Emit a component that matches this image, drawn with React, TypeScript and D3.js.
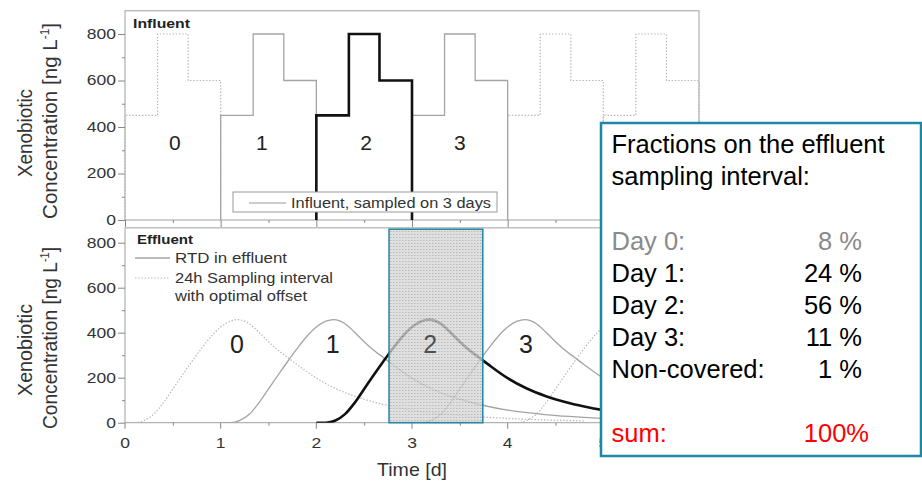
import React, { useEffect, useRef } from 'react'
import * as d3 from 'd3'

const concTicks = [0, 200, 400, 600, 800]
const concMinor = [100, 300, 500, 700]
const dayTicks = [0, 1, 2, 3, 4, 5, 6]
const halfDayTicks = [0.5, 1.5, 2.5, 3.5, 4.5, 5.5]

// influent: daily pattern, fraction of the day where a level starts and the level [ng/L]
const influentPhase = [0, 0.34, 0.66]
const influentLevel = [450, 800, 600]
const influentDays = [0, 1, 2, 3, 4, 5]
const sampledDays = [1, 2, 3]
const highlightDay = 2

// residence time distribution in the effluent: days after start of influent day, ng/L
const rtdTime = [0, 0.1, 0.2, 0.3, 0.4, 0.5, 0.6, 0.7, 0.8, 0.9, 1.0, 1.1, 1.18, 1.3, 1.4, 1.5, 1.6, 1.7, 1.8, 2.0, 2.2, 2.4, 2.6, 2.8, 3.0, 3.4, 4.0, 4.8]
const rtdConc = [0, 0, 10, 38, 88, 150, 212, 272, 330, 383, 425, 451, 458, 440, 402, 360, 322, 290, 258, 198, 152, 118, 92, 72, 56, 36, 19, 8]
const effluentDays = [0, 1, 2, 3, 4]

const dayLabels = ['0', '1', '2', '3']
const influentLabelAt = [0.52, 1.43, 2.52, 3.5]
const effluentLabelAt = [1.17, 2.17, 3.19, 4.19]

const samplingStart = 2.76
const samplingEnd = 3.74

const fractionLabels = ['Day 0:', 'Day 1:', 'Day 2:', 'Day 3:', 'Non-covered:']
const fractionValues = [8, 24, 56, 11, 1]
const fractionSum = 100

const FONT = 'Liberation Sans, Arial, Helvetica, sans-serif'
const TEAL = '#1e87a6'

export default function App() {
  const ref = useRef<SVGSVGElement>(null)

  useEffect(() => {
    const svg = d3.select(ref.current)
    svg.selectAll('*').remove()
    svg.attr('font-family', FONT)

    const x = d3.scaleLinear().domain([0, 6]).range([125, 699])
    const yTop = d3.scaleLinear().domain([0, 800]).range([220, 34])
    const yBot = d3.scaleLinear().domain([0, 800]).range([422.7, 242.7])

    const defs = svg.append('defs')
    const pat = defs.append('pattern').attr('id', 'dots')
      .attr('width', 3).attr('height', 3).attr('patternUnits', 'userSpaceOnUse')
    pat.append('rect').attr('width', 3).attr('height', 3).attr('fill', '#d6d6d6')
    pat.append('rect').attr('width', 1.5).attr('height', 1).attr('fill', '#a8a8a8')
    defs.append('clipPath').attr('id', 'clipBot').append('rect')
      .attr('x', x(0)).attr('y', yBot(866))
      .attr('width', x(6) - x(0)).attr('height', yBot(0) - yBot(866))

    // frames
    svg.append('rect').attr('x', x(0)).attr('y', yTop(900))
      .attr('width', x(6) - x(0)).attr('height', yTop(0) - yTop(900))
      .attr('fill', 'none').attr('stroke', '#a0a0a0')
    svg.append('rect').attr('x', x(0)).attr('y', yBot(866))
      .attr('width', x(6) - x(0)).attr('height', yBot(0) - yBot(866))
      .attr('fill', 'none').attr('stroke', '#a0a0a0')

    const styleAxis = (g) => {
      g.select('.domain').remove()
      g.selectAll('line').attr('stroke', '#888')
      g.selectAll('text').attr('font-size', 14).attr('fill', '#333').attr('font-family', FONT)
    }

    const yAxes = (y) => {
      const major = svg.append('g').attr('transform', `translate(${x(0)},0)`)
        .call(d3.axisLeft(y).tickValues(concTicks).tickSize(7).tickPadding(2))
      styleAxis(major)
      major.selectAll('text').attr('x', -9 / 1.25).attr('transform', 'scale(1.25,1)')
      const minor = svg.append('g').attr('transform', `translate(${x(0)},0)`)
        .call(d3.axisLeft(y).tickValues(concMinor).tickSize(3).tickFormat(() => ''))
      styleAxis(minor)
    }
    yAxes(yTop)
    yAxes(yBot)

    // top panel x ticks (no labels)
    const tx = svg.append('g').attr('transform', `translate(0,${yTop(0)})`)
      .call(d3.axisBottom(x).tickValues(dayTicks).tickSize(7).tickFormat(() => ''))
    styleAxis(tx)
    const txm = svg.append('g').attr('transform', `translate(0,${yTop(0)})`)
      .call(d3.axisBottom(x).tickValues(halfDayTicks).tickSize(3).tickFormat(() => ''))
    styleAxis(txm)

    // bottom panel x axis
    const bx = svg.append('g').attr('transform', `translate(0,${yBot(0)})`)
      .call(d3.axisBottom(x).tickValues(dayTicks).tickSize(6).tickPadding(9).tickFormat(d3.format('d')))
    styleAxis(bx)
    bx.selectAll('text').attr('transform', 'scale(1.25,1)')
      .attr('x', function (this: any) { return 0 })
    bx.selectAll('.tick').each(function (this: any, d: any) {
      d3.select(this).attr('transform', `translate(${x(d)},0)`)
    })
    const bxm = svg.append('g').attr('transform', `translate(0,${yBot(0)})`)
      .call(d3.axisBottom(x).tickValues(halfDayTicks).tickSize(3).tickFormat(() => ''))
    styleAxis(bxm)

    // influent steps
    const dayPoints = (d: number) => {
      const pts: [number, number][] = [[d, 0]]
      influentPhase.forEach((p, i) => {
        const end = i + 1 < influentPhase.length ? influentPhase[i + 1] : 1
        pts.push([d + p, influentLevel[i]])
        pts.push([d + end, influentLevel[i]])
      })
      pts.push([d + 1, 0])
      return pts
    }
    const stepLine = d3.line<[number, number]>().x(p => x(p[0])).y(p => yTop(p[1]))
    const kind = (d: number) => d === highlightDay ? 'bold' : sampledDays.includes(d) ? 'grey' : 'dotted'
    const lineStyle = (sel, k: string) => {
      if (k === 'bold') sel.attr('stroke', '#111').attr('stroke-width', 2.6)
      else if (k === 'grey') sel.attr('stroke', '#a4a4a4').attr('stroke-width', 1.3)
      else sel.attr('stroke', '#b4b4b4').attr('stroke-width', 1.2).attr('stroke-dasharray', '1.4,1.8')
    }
    const order = ['dotted', 'grey', 'bold']
    order.forEach(k => {
      influentDays.filter(d => kind(d) === k).forEach(d => {
        const p = svg.append('path').attr('d', stepLine(dayPoints(d))).attr('fill', 'none')
        lineStyle(p, k)
      })
    })

    // effluent RTD curves
    const rtdLine = d3.line<number>()
      .x((t) => x(t))
      .y((_, i) => yBot(rtdConc[i]))
      .curve(d3.curveMonotoneX)
    const curves = svg.append('g').attr('clip-path', 'url(#clipBot)')
    order.forEach(k => {
      effluentDays.filter(d => kind(d) === k).forEach(d => {
        const p = curves.append('path').attr('d', rtdLine(rtdTime.map(t => d + t))).attr('fill', 'none')
        lineStyle(p, k)
      })
    })

    // sampling interval
    svg.append('rect')
      .attr('x', x(samplingStart)).attr('y', yBot(860))
      .attr('width', x(samplingEnd) - x(samplingStart)).attr('height', yBot(0) - yBot(860))
      .attr('fill', 'url(#dots)').attr('fill-opacity', 0.78)
      .attr('stroke', TEAL).attr('stroke-width', 1.5)

    // day numbers
    dayLabels.forEach((lab, i) => {
      svg.append('text').attr('x', x(influentLabelAt[i])).attr('y', 150)
        .attr('text-anchor', 'middle').attr('font-size', 21).attr('fill', '#222').text(lab)
      svg.append('text').attr('x', x(effluentLabelAt[i])).attr('y', 353)
        .attr('text-anchor', 'middle').attr('font-size', 25).attr('fill', '#222')
        .attr('fill-opacity', i === 1 + 1 ? 0.75 : 1).text(lab)
    })

    // panel titles
    svg.append('text').attr('x', 133).attr('y', 28).attr('font-size', 13).attr('font-weight', 'bold')
      .attr('fill', '#222').attr('textLength', 57).attr('lengthAdjust', 'spacingAndGlyphs').text('Influent')
    svg.append('text').attr('x', 137).attr('y', 244).attr('font-size', 13).attr('font-weight', 'bold')
      .attr('fill', '#222').attr('textLength', 56).attr('lengthAdjust', 'spacingAndGlyphs').text('Effluent')

    // top legend
    svg.append('rect').attr('x', 233).attr('y', 192).attr('width', 264).attr('height', 20)
      .attr('fill', '#fff').attr('stroke', '#9a9a9a')
    svg.append('line').attr('x1', 249).attr('x2', 286).attr('y1', 203).attr('y2', 203)
      .attr('stroke', '#999').attr('stroke-width', 1.2)
    svg.append('text').attr('x', 291).attr('y', 207.5).attr('font-size', 15.5).attr('fill', '#333')
      .attr('textLength', 200).attr('lengthAdjust', 'spacingAndGlyphs').text('Influent, sampled on 3 days')

    // bottom legend
    svg.append('line').attr('x1', 135).attr('x2', 170).attr('y1', 258).attr('y2', 258)
      .attr('stroke', '#a4a4a4').attr('stroke-width', 1.3)
    svg.append('line').attr('x1', 135).attr('x2', 170).attr('y1', 278).attr('y2', 278)
      .attr('stroke', '#b4b4b4').attr('stroke-width', 1.2).attr('stroke-dasharray', '1.4,1.8')
    const legText = [['RTD in effluent', 263, 112], ['24h Sampling interval', 283, 158], ['with optimal offset', 301, 132]]
    legText.forEach(([t, yy, w]) => {
      svg.append('text').attr('x', 175).attr('y', yy).attr('font-size', 15).attr('fill', '#333')
        .attr('textLength', w).attr('lengthAdjust', 'spacingAndGlyphs').text(t as string)
    })

    // y titles
    const yTitle = (cy: number, lenX: number, lenC: number) => {
      svg.append('text').attr('transform', `translate(32,${cy + 12}) rotate(-90)`)
        .attr('text-anchor', 'middle').attr('font-size', 21).attr('fill', '#333')
        .attr('textLength', lenX).attr('lengthAdjust', 'spacingAndGlyphs').text('Xenobiotic')
      const t = svg.append('text').attr('transform', `translate(57,${cy}) rotate(-90)`)
        .attr('text-anchor', 'middle').attr('font-size', 21).attr('fill', '#333')
        .attr('textLength', lenC).attr('lengthAdjust', 'spacingAndGlyphs')
      t.append('tspan').text('Concentration [ng L')
      t.append('tspan').attr('font-size', 12).attr('dy', -8).text('-1')
      t.append('tspan').attr('dy', 8).text(']')
    }
    yTitle(121, 88, 196)
    yTitle(338, 92, 182)

    svg.append('text').attr('x', x(3)).attr('y', 476).attr('text-anchor', 'middle')
      .attr('font-size', 19).attr('fill', '#333')
      .attr('textLength', 70).attr('lengthAdjust', 'spacingAndGlyphs').text('Time [d]')

    // fractions box
    svg.append('rect').attr('x', 601).attr('y', 123).attr('width', 320).attr('height', 333)
      .attr('fill', '#fff').attr('stroke', TEAL).attr('stroke-width', 2.5)
    const boxText = (t: string, xx: number, yy: number, fill: string, anchor = 'start') =>
      svg.append('text').attr('x', xx).attr('y', yy).attr('font-size', 25.5)
        .attr('fill', fill).attr('text-anchor', anchor).text(t)
    boxText('Fractions on the effluent', 611.5, 153, '#000')
    boxText('sampling interval:', 611.5, 185, '#000')
    fractionLabels.forEach((lab, i) => {
      const col = i === 0 ? '#8a8a8a' : '#000'
      boxText(lab, 611.5, 250 + i * 32, col)
      boxText(`${fractionValues[i]} %`, 862, 250 + i * 32, col, 'end')
    })
    boxText('sum:', 611.5, 442, '#f00')
    boxText(`${fractionSum}%`, 869, 442, '#f00', 'end')
  }, [])

  return (
    <svg ref={ref} width={922} height={484}
      style={{ position: 'absolute', left: 0, top: 0, background: '#fff' }} />
  )
}
